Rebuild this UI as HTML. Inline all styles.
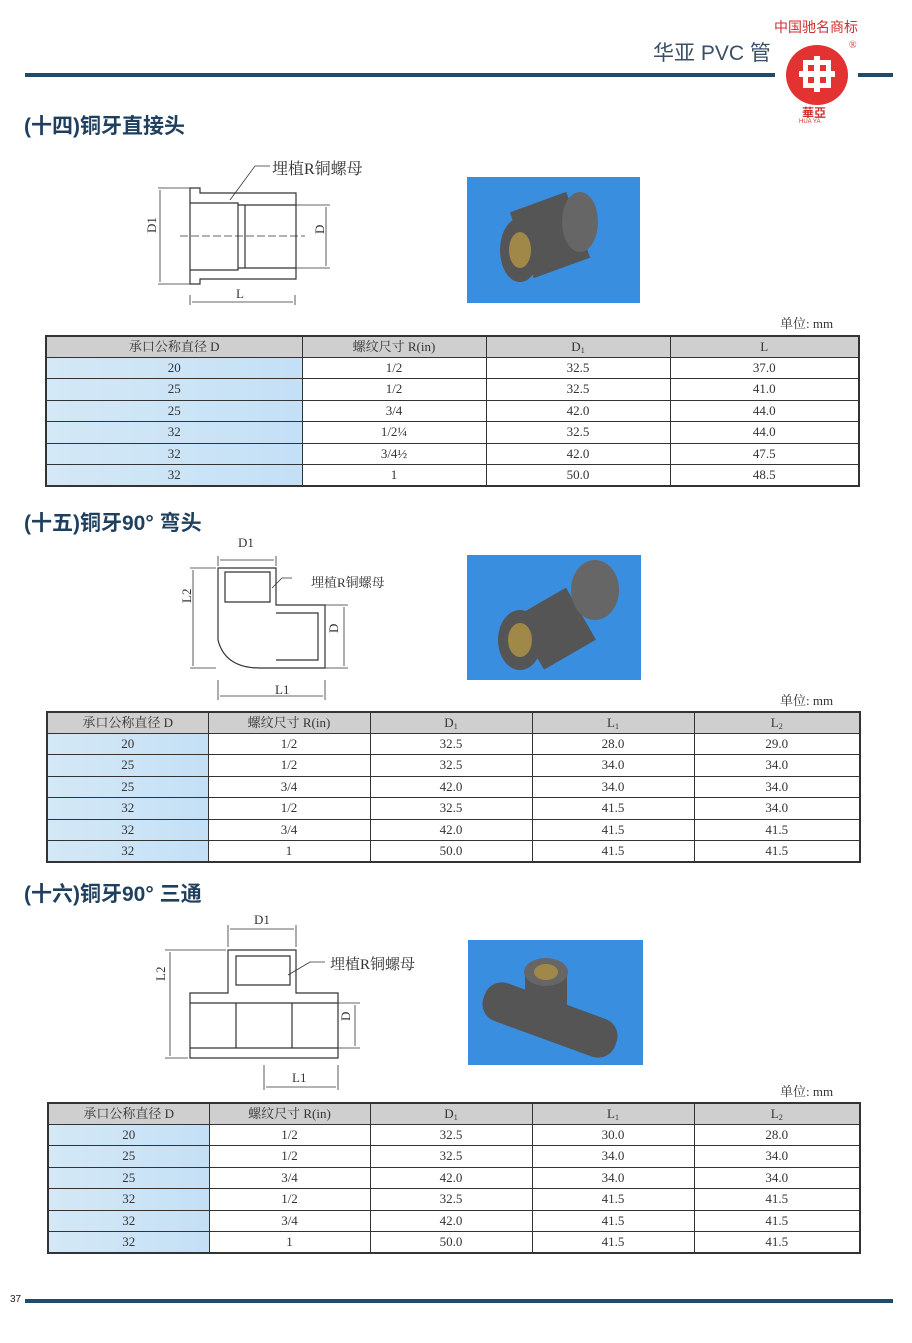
<!DOCTYPE html>
<html><head><meta charset="utf-8"><style>
body{margin:0;width:912px;height:1343px;background:#fff;position:relative;overflow:hidden;font-family:"Liberation Serif","Noto Serif CJK SC",serif;color:#222}
.a{position:absolute}
table{position:absolute;border-collapse:collapse;font-size:13px;font-family:"Liberation Serif","Noto Serif CJK SC",serif;color:#333;border:2px solid #333}
td{border:1px solid #333;text-align:center;padding:0;height:21.5px;line-height:18px;box-sizing:border-box}
tr:first-child td{background:#cfcfcf;height:21px}
td:first-child{background:linear-gradient(90deg,#d4e8f6,#c4e0f6)}
tr:first-child td:first-child{background:#cfcfcf}
sub{font-size:8px;line-height:1;vertical-align:-2px}
.h{font-family:"Liberation Sans","Noto Sans CJK SC",sans-serif;font-size:21px;color:#1e3f5e;font-weight:bold}
.u{font-size:13px;color:#333}
.ph{background:#3a8ee0}
</style></head><body>
<div class="a" style="left:653px;top:37px;font-family:'Liberation Sans','Noto Sans CJK SC',sans-serif;font-size:21px;color:#3a4f66">华亚 PVC 管</div>
<div class="a" style="left:774px;top:17px;font-family:'Liberation Sans','Noto Sans CJK SC',sans-serif;font-size:14px;color:#d23030">中国驰名商标</div>
<div class="a" style="left:849px;top:40px;font-size:10px;color:#d23030">®</div>
<div class="a" style="left:25px;top:73px;width:750px;height:4px;background:#1f4c6a"></div>
<div class="a" style="left:858px;top:73px;width:35px;height:4px;background:#1f4c6a"></div>
<div class="a" style="left:786px;top:45px;width:62px;height:60px;border-radius:50%;background:#e23232"></div>
<div class="a" style="left:803px;top:60px;width:28px;height:28px;border:5px solid #fff;box-sizing:border-box"></div>
<div class="a" style="left:814px;top:56px;width:6px;height:36px;background:#fff"></div>
<div class="a" style="left:799px;top:71px;width:36px;height:6px;background:#fff"></div>
<div class="a" style="left:802px;top:104px;font-size:12px;color:#d23030;font-weight:bold;font-family:'Noto Sans CJK SC',sans-serif">華亞</div>
<div class="a" style="left:799px;top:119px;font-size:6px;color:#d23030;font-family:'Liberation Sans',sans-serif">HUA YA</div>

<div class="a h" style="left:24px;top:110px">(十四)铜牙直接头</div>
<div class="a h" style="left:24px;top:507px">(十五)铜牙90° 弯头</div>
<div class="a h" style="left:24px;top:878px">(十六)铜牙90° 三通</div>

<div class="a ph" style="left:467px;top:177px;width:173px;height:126px"></div>
<div class="a ph" style="left:467px;top:555px;width:174px;height:125px"></div>
<div class="a ph" style="left:468px;top:940px;width:175px;height:125px"></div>
<svg class="a" style="left:0;top:0" width="912" height="1343">
<g fill="#555">
<ellipse cx="520" cy="250" rx="20" ry="32"/><rect x="520" y="200" width="60" height="70" transform="rotate(-20 550 235)"/><ellipse cx="580" cy="222" rx="18" ry="30" fill="#666"/>
<ellipse cx="520" cy="250" rx="11" ry="18" fill="#a08848"/>
<ellipse cx="520" cy="640" rx="22" ry="30"/><rect x="520" y="600" width="60" height="60" transform="rotate(-30 550 620)"/><ellipse cx="595" cy="590" rx="24" ry="30" fill="#666"/>
<ellipse cx="520" cy="640" rx="12" ry="17" fill="#a08848"/>
<rect x="480" y="1000" width="140" height="40" rx="18" transform="rotate(20 550 1020)"/><rect x="525" y="968" width="42" height="40"/><ellipse cx="546" cy="972" rx="22" ry="14" fill="#666"/><ellipse cx="546" cy="972" rx="12" ry="8" fill="#a08848"/>
</g>
<g stroke="#333" fill="none" stroke-width="1.2">
<path d="M190 188H200V193H296V279H200V284H190Z M190 203H238V270H190 M238 205H245V268H238 M245 205H296 M245 268H296"/>
<path d="M158 188H190M158 284H190M160 190V282M296 205H330M296 268H330M326 207V266M190 295V305M295 295V305M192 302H293" stroke-width="0.8"/>
<path d="M180 236H305" stroke-dasharray="8 3" stroke-width="0.7"/>
<path d="M230 200L255 166H270" stroke-width="0.8"/>
<path d="M218 568H276V605H325V668H276V668H260Q225 668 218 640Z M225 572H270V602H225Z M276 613H318V660H276"/>
<path d="M218 556V566M276 556V566M220 560H274M190 568H216M190 668H216M193 570V666M325 605H348M325 668H348M344 607V666M218 680V700M325 680V700M220 696H323" stroke-width="0.8"/>
<path d="M272 588L282 578H292" stroke-width="0.8"/>
<path d="M228 950H296V993H338V1058H190V993H228Z M236 956H290V985H236Z M190 1003H338M190 1048H338M236 1003V1048M292 1003V1048"/>
<path d="M228 925V947M296 925V947M230 929H294M165 950H226M165 1058H188M170 952V1056M338 1003H360M338 1048H360M355 1005V1046M264 1065V1090M338 1065V1090M266 1087H336" stroke-width="0.8"/>
<path d="M288 975L310 962H325" stroke-width="0.8"/>
</g>
<g font-size="13" fill="#333" font-family="Liberation Serif,Noto Serif CJK SC,serif">
<text x="272" y="174" font-size="16">埋植R铜螺母</text>
<text x="236" y="298">L</text>
<text x="153" y="242" transform="rotate(-90 150 236)">D1</text>
<text x="320" y="242" transform="rotate(-90 318 236)">D</text>
<text x="311" y="587">埋植R铜螺母</text>
<text x="238" y="547">D1</text><text x="275" y="694">L1</text>
<text x="190" y="612" transform="rotate(-90 186 607)">L2</text>
<text x="338" y="641" transform="rotate(-90 334 637)">D</text>
<text x="330" y="969" font-size="15">埋植R铜螺母</text>
<text x="254" y="924">D1</text><text x="292" y="1082">L1</text>
<text x="164" y="990" transform="rotate(-90 160 985)">L2</text>
<text x="349" y="1030" transform="rotate(-90 345 1025)">D</text>
</g>
</svg>

<div class="a u" style="left:780px;top:313px">单位: mm</div>
<table style="left:45px;top:335px;width:815px">
<tr><td style="width:256px">承口公称直径 D</td><td style="width:184px">螺纹尺寸 R(in)</td><td style="width:184px">D<sub>1</sub></td><td>L</td></tr>
<tr><td>20</td><td>1/2</td><td>32.5</td><td>37.0</td></tr>
<tr><td>25</td><td>1/2</td><td>32.5</td><td>41.0</td></tr>
<tr><td>25</td><td>3/4</td><td>42.0</td><td>44.0</td></tr>
<tr><td>32</td><td>1/2¼</td><td>32.5</td><td>44.0</td></tr>
<tr><td>32</td><td>3/4½</td><td>42.0</td><td>47.5</td></tr>
<tr><td>32</td><td>1</td><td>50.0</td><td>48.5</td></tr>
</table>

<div class="a u" style="left:780px;top:690px">单位: mm</div>
<table style="left:46px;top:711px;width:815px">
<tr><td style="width:161px">承口公称直径 D</td><td style="width:162px">螺纹尺寸 R(in)</td><td style="width:162px">D<sub>1</sub></td><td style="width:162px">L<sub>1</sub></td><td>L<sub>2</sub></td></tr>
<tr><td>20</td><td>1/2</td><td>32.5</td><td>28.0</td><td>29.0</td></tr>
<tr><td>25</td><td>1/2</td><td>32.5</td><td>34.0</td><td>34.0</td></tr>
<tr><td>25</td><td>3/4</td><td>42.0</td><td>34.0</td><td>34.0</td></tr>
<tr><td>32</td><td>1/2</td><td>32.5</td><td>41.5</td><td>34.0</td></tr>
<tr><td>32</td><td>3/4</td><td>42.0</td><td>41.5</td><td>41.5</td></tr>
<tr><td>32</td><td>1</td><td>50.0</td><td>41.5</td><td>41.5</td></tr>
</table>

<div class="a u" style="left:780px;top:1081px">单位: mm</div>
<table style="left:47px;top:1102px;width:814px">
<tr><td style="width:161px">承口公称直径 D</td><td style="width:161px">螺纹尺寸 R(in)</td><td style="width:162px">D<sub>1</sub></td><td style="width:162px">L<sub>1</sub></td><td>L<sub>2</sub></td></tr>
<tr><td>20</td><td>1/2</td><td>32.5</td><td>30.0</td><td>28.0</td></tr>
<tr><td>25</td><td>1/2</td><td>32.5</td><td>34.0</td><td>34.0</td></tr>
<tr><td>25</td><td>3/4</td><td>42.0</td><td>34.0</td><td>34.0</td></tr>
<tr><td>32</td><td>1/2</td><td>32.5</td><td>41.5</td><td>41.5</td></tr>
<tr><td>32</td><td>3/4</td><td>42.0</td><td>41.5</td><td>41.5</td></tr>
<tr><td>32</td><td>1</td><td>50.0</td><td>41.5</td><td>41.5</td></tr>
</table>

<div class="a" style="left:10px;top:1294px;font-size:10px;font-family:'Liberation Sans',sans-serif">37</div>
<div class="a" style="left:25px;top:1299px;width:868px;height:4px;background:#1f4c6a"></div>
</body></html>
